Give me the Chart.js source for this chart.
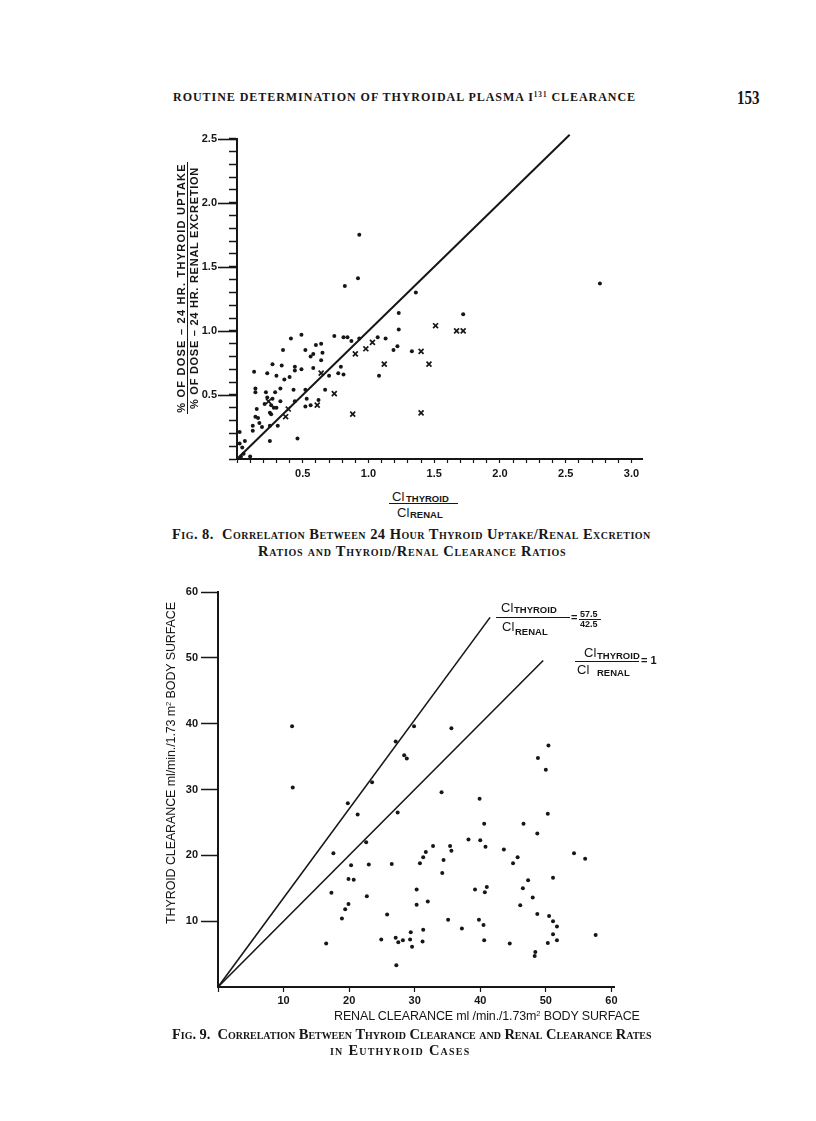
<!DOCTYPE html>
<html>
<head>
<meta charset="utf-8">
<script src="https://cdn.jsdelivr.net/npm/chart.js@4.4.1/dist/chart.umd.min.js"></script>
<style>
  html, body { margin: 0; padding: 0; background: #fff; }
  body { width: 816px; height: 1121px; position: relative; overflow: hidden; color: #161616;
         font-family: "Liberation Sans", Arial, sans-serif; }
  .abs { position: absolute; white-space: nowrap; line-height: 1; }
  .serif { font-family: "Liberation Serif", "DejaVu Serif", serif; }
  .cap { font-variant: small-caps; font-weight: bold; font-size: 14.5px; }
  .cl { font-size: 13px; }
  .sub { font-size: 9.5px; font-weight: bold; }
  .bar { position: absolute; border-top: 1.2px solid #161616; height: 0; }
  .rot { position: absolute; transform: rotate(-90deg); transform-origin: center center;
         text-align: center; white-space: nowrap; }
  sup { font-size: 0.6em; line-height: 0; vertical-align: 0.55em; }
</style>
</head>
<body>

<!-- page header -->
<div class="abs serif" data-w="463" style="left:173px; top:91px; font-size:12px; font-weight:bold;">ROUTINE DETERMINATION OF THYROIDAL PLASMA I<sup>131</sup> CLEARANCE</div>
<div class="abs serif" style="left:737px; top:89px; font-size:15px; font-weight:bold; transform:scaleY(1.25); transform-origin:left top;">153</div>

<!-- Fig. 8 -->
<div class="abs" style="left:182px; top:120px; width:470px; height:367px;"><canvas id="fig8" width="470" height="367"></canvas></div>

<div class="rot" style="left:62px; top:276px; width:252px; height:24px; font-size:11px; font-weight:bold;">
  <div style="border-bottom:1.2px solid #161616; height:11px; line-height:11px;"><span data-w="250">% OF DOSE – 24 HR. THYROID UPTAKE</span></div>
  <div style="height:11px; line-height:12px;"><span data-w="242">% OF DOSE – 24 HR. RENAL EXCRETION</span></div>
</div>

<span class="abs cl" style="left:392px; top:490px;">Cl</span>
<span class="abs sub" style="left:406px; top:494px;">THYROID</span>
<div class="bar" style="left:389px; top:503px; width:69px;"></div>
<span class="abs cl" style="left:397px; top:506px;">Cl</span>
<span class="abs sub" style="left:410px; top:510px;">RENAL</span>

<div class="abs serif cap" data-w="479" style="left:172px; top:527px;">Fig. 8.&nbsp; Correlation Between 24 Hour Thyroid Uptake/Renal Excretion</div>
<div class="abs serif cap" data-w="308" style="left:258px; top:544px;">Ratios and Thyroid/Renal Clearance Ratios</div>

<!-- Fig. 9 -->
<div class="abs" style="left:160px; top:580px; width:464px; height:437px;"><canvas id="fig9" width="464" height="437"></canvas></div>

<div class="rot" style="left:4px; top:756px; width:334px; height:14px; font-size:12.5px;">
  <span data-w="322">THYROID CLEARANCE ml/min./1.73 m<sup>2</sup> BODY SURFACE</span>
</div>
<div class="abs" data-w="306" style="left:334px; top:1010px; font-size:12.5px;">RENAL CLEARANCE ml /min./1.73m<sup>2</sup> BODY SURFACE</div>

<span class="abs cl" style="left:501px; top:601px;">Cl</span>
<span class="abs sub" style="left:514px; top:605px;">THYROID</span>
<div class="bar" style="left:496px; top:617px; width:74px;"></div>
<span class="abs cl" style="left:502px; top:620px;">Cl</span>
<span class="abs sub" style="left:515px; top:627px;">RENAL</span>
<span class="abs" style="left:571px; top:612px; font-size:11px; font-weight:bold;">=</span>
<span class="abs sub" style="left:580px; top:610px; font-size:9px;">57.5</span>
<div class="bar" style="left:579px; top:619px; width:22px;"></div>
<span class="abs sub" style="left:580px; top:620px; font-size:9px;">42.5</span>

<span class="abs cl" style="left:584px; top:646px;">Cl</span>
<span class="abs sub" style="left:597px; top:651px;">THYROID</span>
<div class="bar" style="left:575px; top:661px; width:64px;"></div>
<span class="abs cl" style="left:577px; top:663px;">Cl</span>
<span class="abs sub" style="left:597px; top:668px;">RENAL</span>
<span class="abs" style="left:641px; top:655px; font-size:11px; font-weight:bold;">= 1</span>

<div class="abs serif cap" data-w="479" style="left:172px; top:1027px;">Fig. 9.&nbsp; Correlation Between Thyroid Clearance and Renal Clearance Rates</div>
<div class="abs serif cap" data-w="141" style="left:330px; top:1043px;">in Euthyroid Cases</div>

<script>
// ---- Fig. 8: uptake/excretion ratio (y) vs thyroid/renal clearance ratio (x) ----
const fig8Dots = [
    [0.93, 1.75], [0.92, 1.41], [0.82, 1.35], [1.36, 1.30], [2.76, 1.37], [1.72, 1.13],
    [1.23, 1.14], [1.23, 1.01], [1.22, 0.88], [1.19, 0.85], [1.13, 0.94], [1.07, 0.95],
    [0.93, 0.94], [0.87, 0.92], [0.84, 0.95], [0.81, 0.95], [0.74, 0.96], [1.33, 0.84],
    [1.08, 0.65], [0.67, 0.54], [0.70, 0.65], [0.77, 0.67], [0.81, 0.66], [0.79, 0.72],
    [0.64, 0.77], [0.65, 0.83], [0.64, 0.90], [0.60, 0.89], [0.58, 0.82], [0.56, 0.80],
    [0.52, 0.85], [0.49, 0.97], [0.41, 0.94], [0.35, 0.85], [0.34, 0.73], [0.27, 0.74],
    [0.23, 0.67], [0.13, 0.68], [0.30, 0.65], [0.36, 0.62], [0.40, 0.64], [0.44, 0.72],
    [0.44, 0.69], [0.49, 0.70], [0.58, 0.71], [0.52, 0.54], [0.53, 0.47], [0.52, 0.41],
    [0.56, 0.42], [0.62, 0.46], [0.43, 0.54], [0.44, 0.45], [0.33, 0.45], [0.33, 0.55],
    [0.29, 0.52], [0.22, 0.52], [0.23, 0.48], [0.28, 0.40], [0.30, 0.40], [0.21, 0.43],
    [0.25, 0.36], [0.26, 0.35], [0.14, 0.55], [0.14, 0.52], [0.15, 0.39], [0.14, 0.33],
    [0.16, 0.32], [0.17, 0.28], [0.19, 0.25], [0.12, 0.26], [0.12, 0.22], [0.25, 0.26],
    [0.31, 0.26], [0.46, 0.16], [0.25, 0.14], [0.02, 0.21], [0.02, 0.12], [0.04, 0.09],
    [0.06, 0.14], [0.05, 0.04], [0.10, 0.02], [0.03, 0.02], [0.27, 0.47], [0.26, 0.42]
];
const fig8Crosses = [
    [0.37, 0.33], [0.39, 0.39], [0.24, 0.45], [0.61, 0.42], [0.64, 0.67], [0.74, 0.51],
    [0.88, 0.35], [0.90, 0.82], [0.98, 0.86], [1.03, 0.91], [1.12, 0.74], [1.40, 0.84],
    [1.40, 0.36], [1.46, 0.74], [1.51, 1.04], [1.67, 1.00], [1.72, 1.00]
];
const fig8Line = [[0, 0], [2.53, 2.53]];
const fig8Labels = [0.5, 1.0, 1.5, 2.0, 2.5, 3.0];

// ---- Fig. 9: thyroid clearance (y) vs renal clearance (x) ----
const fig9Dots = [
    [11.3, 39.6], [11.4, 30.3], [29.9, 39.6], [35.6, 39.3], [27.1, 37.3], [28.4, 35.2],
    [28.8, 34.7], [23.5, 31.1], [19.8, 27.9], [21.3, 26.2], [27.4, 26.5], [34.1, 29.6],
    [22.6, 22.0], [17.6, 20.3], [20.3, 18.5], [23.0, 18.6], [26.5, 18.7], [19.9, 16.4],
    [20.7, 16.3], [17.3, 14.3], [22.7, 13.8], [19.9, 12.6], [19.4, 11.8], [18.9, 10.4],
    [16.5, 6.6], [25.8, 11.0], [24.9, 7.2], [27.1, 7.5], [27.5, 6.8], [28.2, 7.1],
    [29.3, 7.2], [29.4, 8.3], [29.6, 6.1], [31.2, 6.9], [31.3, 8.7], [27.2, 3.3],
    [30.3, 14.8], [30.3, 12.5], [32.0, 13.0], [30.8, 18.8], [31.3, 19.7], [31.7, 20.5],
    [32.8, 21.4], [34.4, 19.3], [34.2, 17.3], [35.4, 21.4], [35.6, 20.7], [35.1, 10.2],
    [50.4, 36.7], [48.8, 34.8], [50.0, 33.0], [39.9, 28.6], [50.3, 26.3], [40.6, 24.8],
    [46.6, 24.8], [48.7, 23.3], [38.2, 22.4], [40.0, 22.3], [40.8, 21.3], [43.6, 20.9],
    [45.7, 19.7], [45.0, 18.8], [54.3, 20.3], [56.0, 19.5], [47.3, 16.2], [46.5, 15.0],
    [51.1, 16.6], [48.0, 13.6], [46.1, 12.4], [48.7, 11.1], [50.5, 10.8], [51.1, 10.0],
    [51.7, 9.2], [51.1, 8.0], [51.7, 7.1], [50.3, 6.7], [48.4, 5.3], [48.3, 4.7],
    [57.6, 7.9], [44.5, 6.6], [40.6, 7.1], [39.8, 10.2], [40.5, 9.4], [39.2, 14.8],
    [40.7, 14.4], [41.0, 15.2], [37.2, 8.9]
];
const fig9LineSteep = [[0, 0], [41.5, 41.5 * 57.5 / 42.5]];
const fig9LineEqual = [[0, 0], [49.6, 49.6]];
const fig9Labels = [10, 20, 30, 40, 50, 60];

const ink = '#161616';
const toXY = pts => pts.map(([x, y]) => ({ x, y }));
const near = (v, list) => list.some(l => Math.abs(l - v) < 1e-6);

// longer tick marks at the labelled values of the y axis
const majorTicks = {
    id: 'majorTicks',
    afterDraw(chart, args, opts) {
        if (!opts.length) return;
        const ctx = chart.ctx;
        const y = chart.scales.y;
        ctx.save();
        ctx.strokeStyle = ink;
        ctx.lineWidth = opts.width || 1.5;
        y.ticks.forEach(t => {
            if (!near(t.value, opts.values)) return;
            const py = Math.round(y.getPixelForValue(t.value)) + 0.5;
            ctx.beginPath();
            ctx.moveTo(chart.chartArea.left, py);
            ctx.lineTo(chart.chartArea.left - opts.length, py);
            ctx.stroke();
        });
        ctx.restore();
    }
};

const tickFont = { family: '"Liberation Sans", Arial, sans-serif', size: 11, weight: 'bold' };

function dotSet(pts) {
    return { data: toXY(pts), pointRadius: 2, pointBackgroundColor: ink, pointBorderWidth: 0, clip: false };
}
function lineSet(pts, width) {
    return { data: toXY(pts), showLine: true, borderColor: ink, borderWidth: width, pointRadius: 0, clip: false };
}

new Chart(document.getElementById('fig8'), {
    type: 'scatter',
    data: {
        datasets: [
            lineSet(fig8Line, 2),
            dotSet(fig8Dots),
            { data: toXY(fig8Crosses), pointStyle: 'crossRot', pointRadius: 3.5,
              pointBorderColor: ink, pointBorderWidth: 1.7, clip: false }
        ]
    },
    options: {
        responsive: false,
        animation: false,
        layout: { padding: { top: 10, right: 10, left: 0, bottom: 0 } },
        plugins: {
            legend: { display: false },
            tooltip: { enabled: false },
            majorTicks: { values: fig8Labels, length: 19, width: 1.6 }
        },
        scales: {
            x: {
                type: 'linear', min: 0, max: 3.08,
                afterFit: s => { s.height = 28; },
                ticks: { stepSize: 0.1, includeBounds: false, autoSkip: false, maxRotation: 0,
                         padding: 4, color: ink, font: tickFont,
                         callback: v => near(v, fig8Labels) ? v.toFixed(1) : '' },
                grid: { drawOnChartArea: false, tickLength: 4, tickColor: ink, tickWidth: 1.2 },
                border: { color: ink, width: 2 }
            },
            y: {
                type: 'linear', min: 0, max: 2.5,
                afterFit: s => { s.width = 55; },
                ticks: { stepSize: 0.1, autoSkip: false, padding: 12, color: ink, font: tickFont,
                         callback: v => near(v, fig8Labels) ? v.toFixed(1) : '' },
                grid: { drawOnChartArea: false, tickLength: 8, tickColor: ink, tickWidth: 1.5 },
                border: { color: ink, width: 2 }
            }
        }
    },
    plugins: [majorTicks]
});

new Chart(document.getElementById('fig9'), {
    type: 'scatter',
    data: {
        datasets: [
            lineSet(fig9LineSteep, 1.6),
            lineSet(fig9LineEqual, 1.6),
            dotSet(fig9Dots)
        ]
    },
    options: {
        responsive: false,
        animation: false,
        layout: { padding: { top: 12, right: 10, left: 0, bottom: 0 } },
        plugins: { legend: { display: false }, tooltip: { enabled: false } },
        scales: {
            x: {
                type: 'linear', min: 0, max: 60.4,
                afterFit: s => { s.height = 30; },
                ticks: { stepSize: 10, includeBounds: false, autoSkip: false, maxRotation: 0,
                         padding: 2, color: ink, font: tickFont,
                         callback: v => near(v, fig9Labels) ? String(v) : '' },
                grid: { drawOnChartArea: false, tickLength: 5, tickColor: ink, tickWidth: 1.2 },
                border: { color: ink, width: 2 }
            },
            y: {
                type: 'linear', min: 0, max: 60,
                afterFit: s => { s.width = 58; },
                ticks: { stepSize: 10, autoSkip: false, padding: 3, color: ink, font: tickFont,
                         callback: v => near(v, fig9Labels) ? String(v) : '' },
                grid: { drawOnChartArea: false, tickLength: 17,
                        tickColor: c => c.tick && c.tick.value === 0 ? 'rgba(0,0,0,0)' : ink, tickWidth: 1.5 },
                border: { color: ink, width: 2 }
            }
        }
    }
});

// stretch letter spacing so each text run spans the width it has in the print
document.querySelectorAll('[data-w]').forEach(el => {
    const target = +el.dataset.w;
    const natural = el.offsetWidth;
    const n = el.textContent.trim().length;
    el.style.letterSpacing = ((target - natural) / n).toFixed(2) + 'px';
    el.style.display = el.style.display || 'inline-block';
});
</script>
</body>
</html>
